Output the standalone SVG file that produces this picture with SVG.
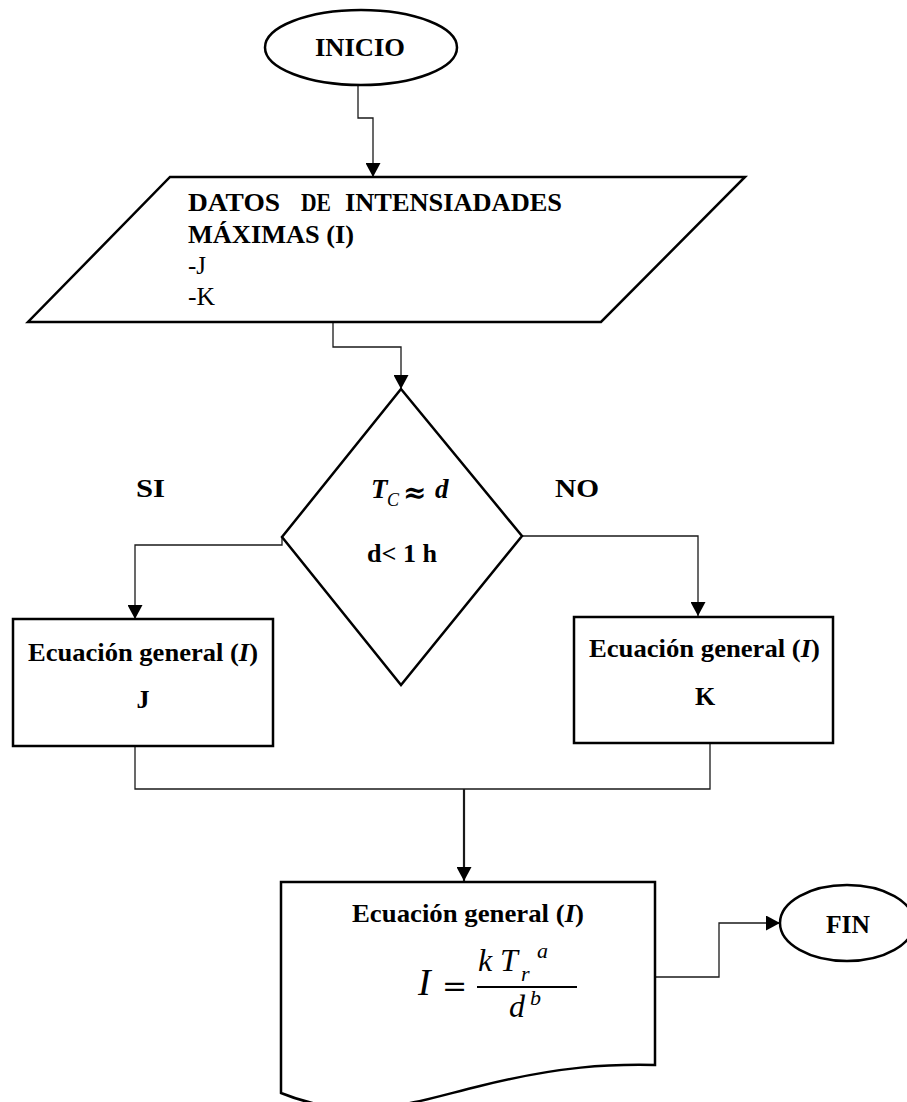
<svg xmlns="http://www.w3.org/2000/svg" width="907" height="1102" viewBox="0 0 907 1102">
  <defs>
    <marker id="arrow" markerUnits="userSpaceOnUse" markerWidth="14" markerHeight="15" refX="14" refY="7.5" orient="auto">
      <path d="M0,0 L14,7.5 L0,15 Z" fill="#000"/>
    </marker>
    <style>
      .shape { fill: #fff; stroke: #000; stroke-width: 2.5; }
      .conn { fill: none; stroke: #1a1a1a; stroke-width: 1.3; }
      .conn-main { fill: none; stroke: #1a1a1a; stroke-width: 2.2; }
      .lbl { font-family: "Liberation Serif", "Times New Roman", serif; font-weight: bold; font-size: 26px; fill: #000; }
      .plain { font-family: "Liberation Serif", "Times New Roman", serif; font-size: 26px; fill: #000; }
      .math { font-family: "Liberation Serif", "Times New Roman", serif; font-style: italic; fill: #000; }
      .sym { font-family: "DejaVu Serif", serif; fill: #000; }
    </style>
  </defs>
  <rect width="907" height="1102" fill="#fff"/>

  <!-- connectors -->
  <g id="connectors">
    <path class="conn" d="M358,85 V118 H373 V177" marker-end="url(#arrow)"/>
    <path class="conn" d="M333,322 V347 H401 V389" marker-end="url(#arrow)"/>
    <path class="conn" d="M282,537 V545 H135 V619" marker-end="url(#arrow)"/>
    <path class="conn" d="M522,536 H698 V616" marker-end="url(#arrow)"/>
    <path class="conn" d="M135,746 V789 H710 V743"/>
    <path class="conn-main" d="M464,789 V881" marker-end="url(#arrow)"/>
    <path class="conn" d="M655,977 H719 V923 H780" marker-end="url(#arrow)"/>
  </g>

  <!-- start terminal -->
  <g id="inicio">
    <ellipse class="shape" cx="361" cy="47.5" rx="96" ry="37.5"/>
    <text class="lbl" x="315" y="56" textLength="90" lengthAdjust="spacingAndGlyphs">INICIO</text>
  </g>

  <!-- input data -->
  <g id="datos">
    <polygon class="shape" points="170,177 745,177 601,322 28,322"/>
    <text class="lbl" x="188" y="211" textLength="92" lengthAdjust="spacingAndGlyphs">DATOS</text>
    <text class="lbl" x="301" y="211" textLength="30" lengthAdjust="spacingAndGlyphs">DE</text>
    <text class="lbl" x="345" y="211" textLength="217" lengthAdjust="spacingAndGlyphs">INTENSIADADES</text>
    <text class="lbl" x="188" y="243" textLength="166" lengthAdjust="spacingAndGlyphs">MÁXIMAS (I)</text>
    <text class="plain" x="188" y="274" textLength="18" lengthAdjust="spacingAndGlyphs">-J</text>
    <text class="plain" x="188" y="305" textLength="27" lengthAdjust="spacingAndGlyphs">-K</text>
  </g>

  <!-- decision -->
  <g id="decision">
    <polygon class="shape" points="401,389 522,536 401,685 282,537"/>
    <text class="math" font-weight="bold" font-size="27" x="371" y="498">T</text>
    <text class="math" font-size="18" x="387" y="506">C</text>
    <text class="sym" font-weight="bold" font-size="28" x="403" y="502">≈</text>
    <text class="math" font-weight="bold" font-size="27" x="435" y="498">d</text>
    <text class="lbl" x="367" y="562" textLength="70" lengthAdjust="spacingAndGlyphs">d&lt; 1 h</text>
  </g>

  <!-- branch labels -->
  <g id="labels">
    <text class="lbl" x="136" y="497" textLength="29" lengthAdjust="spacingAndGlyphs">SI</text>
    <text class="lbl" x="555" y="497" textLength="44" lengthAdjust="spacingAndGlyphs">NO</text>
  </g>

  <!-- process J -->
  <g id="proceso-j">
    <rect class="shape" x="13" y="619" width="260" height="127"/>
    <text class="lbl" x="28" y="661" textLength="230" lengthAdjust="spacingAndGlyphs">Ecuación general (<tspan font-style="italic">I</tspan>)</text>
    <text class="lbl" x="143" y="708" text-anchor="middle">J</text>
  </g>

  <!-- process K -->
  <g id="proceso-k">
    <rect class="shape" x="574" y="617" width="259" height="126"/>
    <text class="lbl" x="589" y="657" textLength="231" lengthAdjust="spacingAndGlyphs">Ecuación general (<tspan font-style="italic">I</tspan>)</text>
    <text class="lbl" x="705" y="705" text-anchor="middle">K</text>
  </g>

  <!-- result document -->
  <g id="resultado">
    <path class="shape" d="M281,882 H655 V1065 C610,1064 560,1066 480,1086 C420,1100 360,1125 281,1093 Z"/>
    <text class="lbl" x="352" y="922" textLength="232" lengthAdjust="spacingAndGlyphs">Ecuación general (<tspan font-style="italic">I</tspan>)</text>
    <text class="math" font-size="38" x="418" y="995">I</text>
    <text class="sym" font-size="30" x="442" y="996">=</text>
    <line x1="477" y1="987" x2="577" y2="987" stroke="#000" stroke-width="2.2"/>
    <text class="math" font-size="32" x="478" y="971">k</text>
    <text class="math" font-size="32" x="500" y="971">T</text>
    <text class="math" font-size="22" x="521" y="981">r</text>
    <text class="math" font-size="22" x="537" y="958">a</text>
    <text class="math" font-size="32" x="509" y="1017">d</text>
    <text class="math" font-size="22" x="530" y="1005">b</text>
  </g>

  <!-- end terminal -->
  <g id="fin">
    <ellipse class="shape" cx="847" cy="923" rx="67" ry="38"/>
    <text class="lbl" x="826" y="933" textLength="44" lengthAdjust="spacingAndGlyphs">FIN</text>
  </g>
</svg>
